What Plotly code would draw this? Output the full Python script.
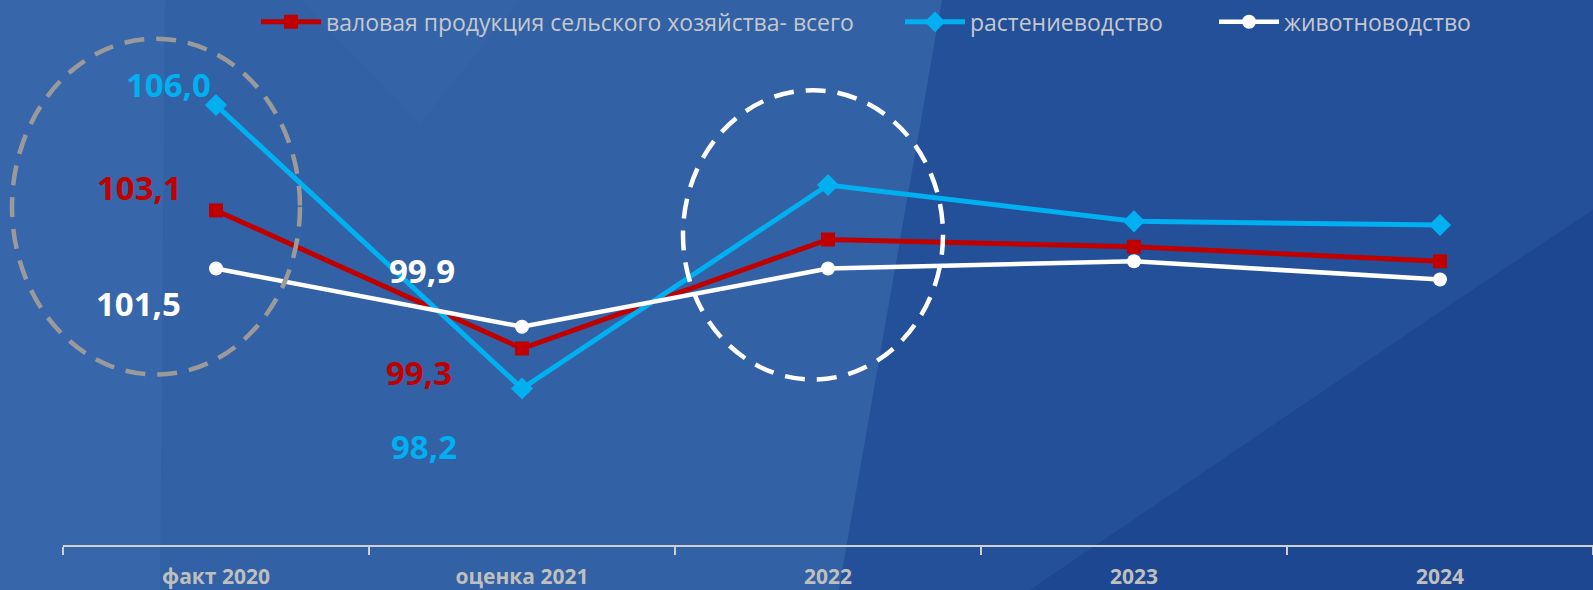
import plotly.graph_objects as go

# ---------------- data ----------------
categories = ["факт 2020", "оценка 2021", "2022", "2023", "2024"]
series_names = ["валовая продукция сельского хозяйства- всего", "растениеводство", "животноводство"]
total_values = [103.1, 99.3, 102.3, 102.1, 101.7]
crop_values = [106.0, 98.2, 103.8, 102.8, 102.7]
livestock_values = [101.5, 99.9, 101.5, 101.7, 101.2]

# ---------------- styles / label offsets (px) ----------------
colors = ["#C00000", "#00B0F0", "#FFFFFF"]
symbols = ["square", "diamond", "circle"]
marker_sizes = [14, 17, 14]
line_widths = [5, 5, 4.5]
label_dx = [
    [-77, -103, 70, 21, 67],
    [-48, -98, -26, 147, 64],
    [-78, -100, -14, 13, -9],
]
label_dy = [
    [23, -24, 31, 69, -3],
    [21, -58, 47, 23, 69],
    [-35, 56, -50, -62, -69],
]

W, H = 1593, 590
ML, MR, MT, MB = 63, 0, 0, 45
PW, PH = W - ML - MR, H - MT - MB


def px(x):
    return (x - ML) / PW


def py(y):
    return (H - MB - y) / PH


fig = go.Figure()

all_values = [total_values, crop_values, livestock_values]
legend_ids = ["legend", "legend2", "legend3"]
for i, (name, vals) in enumerate(zip(series_names, all_values)):
    fig.add_trace(go.Scatter(
        x=categories, y=vals, name=name, mode="lines+markers",
        line=dict(color=colors[i], width=line_widths[i]),
        marker=dict(symbol=symbols[i], size=marker_sizes[i], color=colors[i]),
        legend=legend_ids[i], hoverinfo="skip",
    ))
    for j, v in enumerate(vals):
        fig.add_annotation(
            x=categories[j], y=v, xref="x", yref="y",
            text=f"{v:.1f}".replace(".", ","), showarrow=False,
            xshift=label_dx[i][j], yshift=label_dy[i][j],
            font=dict(family="Open Sans", size=33, color=colors[i], weight="bold"),
        )

# ---------------- background facets ----------------
def poly(points, color):
    d = "M " + " L ".join(f"{px(a):.5f},{py(b):.5f}" for a, b in points) + " Z"
    return dict(type="path", path=d, xref="paper", yref="paper",
                fillcolor=color, line=dict(width=0), layer="below")


shapes = [
    poly([(0, -5), (942, -5), (838, 595), (0, 595)], "#3261a5"),
    poly([(0, -5), (165, -5), (160, 595), (0, 595)], "#3767aa"),
    poly([(300, -5), (520, -5), (420, 120)], "#3464a7"),
    poly([(1023, 595), (1454, 300), (1600, 202), (1600, 595)], "#1e4791"),
]
# dashed highlight circles
shapes.append(dict(type="circle", xref="paper", yref="paper",
                   x0=px(12), x1=px(300), y0=py(373), y1=py(34),
                   line=dict(color="#9a9a9a", width=4.5, dash="20px,12px"), layer="above"))
shapes.append(dict(type="circle", xref="paper", yref="paper",
                   x0=px(683), x1=px(943), y0=py(378), y1=py(86),
                   line=dict(color="#FFFFFF", width=4.5, dash="20px,12px"), layer="above"))

legend_x = [256, 900, 1214]
legend_common = dict(orientation="h", yanchor="middle", xanchor="left",
                     bgcolor="rgba(0,0,0,0)", borderwidth=0, itemwidth=60,
                     font=dict(family="Open Sans", size=23, color="#C4C8CE"))

fig.update_layout(
    width=W, height=H,
    margin=dict(l=ML, r=MR, t=MT, b=MB),
    paper_bgcolor="#24509A", plot_bgcolor="rgba(0,0,0,0)",
    showlegend=True,
    legend=dict(x=px(legend_x[0]), y=py(17), **legend_common),
    legend2=dict(x=px(legend_x[1]), y=py(17), **legend_common),
    legend3=dict(x=px(legend_x[2]), y=py(17), **legend_common),
    shapes=shapes,
    xaxis=dict(
        type="category", range=[-0.5, 4.5], showgrid=False, zeroline=False,
        showline=True, linecolor="#D0D0D0", linewidth=2,
        ticks="outside", tickson="boundaries", ticklen=8, tickcolor="#D0D0D0", tickwidth=2,
        tickfont=dict(family="Open Sans", size=21, color="#BFBFBF", weight="bold"),
        ticklabelstandoff=12,
    ),
    yaxis=dict(range=[93.892, 108.754], visible=False, showgrid=False, zeroline=False),
)

fig.write_html(
    "out.html",
    config={"displayModeBar": False, "staticPlot": True},
    post_script=(
        "document.documentElement.style.margin='0';"
        "document.body.style.margin='0';document.body.style.padding='0';"
        "document.body.style.overflow='hidden';"
        "document.body.style.background='#24509A';"
    ),
)
